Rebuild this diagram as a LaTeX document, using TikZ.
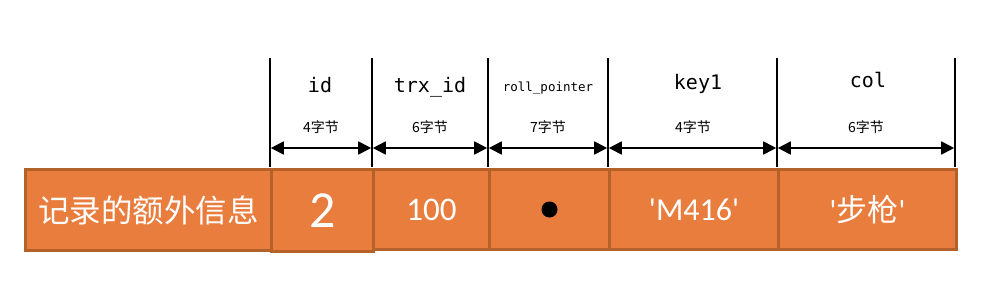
\documentclass[tikz,border=0pt]{standalone}
\usepackage{fontspec}
\setmainfont{Carlito}
\newfontfamily\cjk{Noto Sans CJK SC}
\newfontfamily\hdr{DejaVu Sans Mono}
\usetikzlibrary{arrows.meta}
\definecolor{cellfill}{HTML}{E97D3D}
\definecolor{celledge}{HTML}{B5612A}
\newcommand\sq{\XeTeXglyph\XeTeXcharglyph"0027\relax}
\tikzset{
  cell/.style={draw=celledge, line width=3pt, fill=cellfill, text=white, inner sep=0pt, anchor=north west},
  vline/.style={line width=1.6pt, black},
  span/.style={line width=1.8pt, {Triangle[length=13pt,width=13pt]}-{Triangle[length=13pt,width=13pt]}, shorten <=0.8pt, shorten >=0.8pt},
  hdrtext/.style={font=\hdr\fontsize{20}{20}\selectfont},
  bytetext/.style={font=\cjk\fontsize{14}{15}\selectfont},
}
\begin{document}
\begin{tikzpicture}[x=1pt,y=-1pt]
\useasboundingbox (0,0) rectangle (1004,284);
% cells
\node[cell, minimum width=246pt, minimum height=81pt, font=\cjk\fontsize{31.5}{32}\selectfont] (extra) at (24,168) {记录的额外信息};
\node[cell, minimum width=102pt, minimum height=82pt, font=\fontsize{52}{52}\selectfont] (id) at (270,168) {2};
\node[cell, minimum width=116pt, minimum height=80pt, font=\fontsize{33}{33}\selectfont] (trx) at (372,168) {100};
\node[cell, minimum width=120pt, minimum height=80pt] (roll) at (488,168) {};
\fill[black] (roll.center) circle (8pt);
\node[cell, minimum width=169pt, minimum height=80pt, font=\fontsize{32}{32}\selectfont] (key) at (608,168) {\sq M416\sq};
\node[cell, minimum width=178pt, minimum height=80pt, font=\fontsize{31}{31}\selectfont] (col) at (777,168) {\sq{\cjk 步枪}\sq};
% vertical guide lines
\foreach \n/\x in {a/270,b/372,c/488,d/608,e/777,f/955}{
  \coordinate (top-\n) at (\x,58);
  \coordinate (bot-\n) at (\x,167);
  \coordinate (arr-\n) at (\x,148);
  \draw[vline] (top-\n) -- (bot-\n);
}
% arrows
\draw[span] (arr-a) -- (arr-b);
\draw[span] (arr-b) -- (arr-c);
\draw[span] (arr-c) -- (arr-d);
\draw[span] (arr-d) -- (arr-e);
\draw[span] (arr-e) -- (arr-f);
% headers
\node[hdrtext] (hid) at (320,85) {id};
\node[hdrtext] (htrx) at (430,87) {trx\_id};
\node[hdrtext, font=\hdr\fontsize{12.5}{13}\selectfont] (hroll) at (548,88) {roll\_pointer};
\node[hdrtext] (hkey) at (698,84) {key1};
\node[hdrtext] (hcol) at (868,80) {col};
% byte counts
\node[bytetext] (bid) at (321,127) {4字节};
\node[bytetext] (btrx) at (430,127) {6字节};
\node[bytetext] (broll) at (548,127) {7字节};
\node[bytetext] (bkey) at (693,127) {4字节};
\node[bytetext] (bcol) at (866,127) {6字节};
\end{tikzpicture}
\end{document}
